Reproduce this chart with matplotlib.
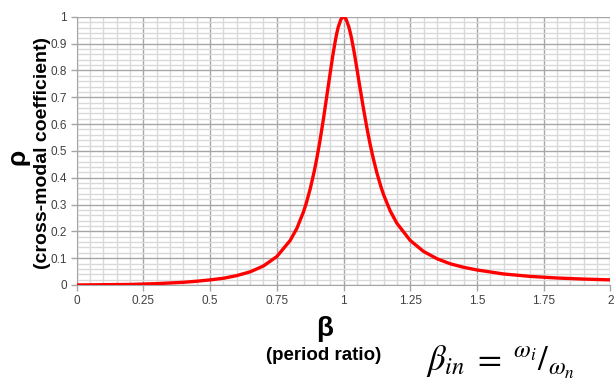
import matplotlib
matplotlib.use("Agg")
import matplotlib.pyplot as plt
from matplotlib.ticker import MultipleLocator

# period ratio vs cross-modal coefficient
beta = [0, 0.1, 0.2, 0.3, 0.4, 0.45, 0.5, 0.55, 0.6, 0.65, 0.7, 0.75, 0.8, 0.825, 0.85,
        0.86, 0.875, 0.89, 0.9, 0.91, 0.925, 0.93, 0.94, 0.95, 0.96, 0.97, 0.975, 0.98,
        0.99, 0.995, 1.0, 1.005, 1.01, 1.02, 1.025, 1.03, 1.04, 1.05, 1.06, 1.075, 1.09,
        1.1, 1.11, 1.125, 1.14, 1.15, 1.175, 1.2, 1.25, 1.3, 1.35, 1.4, 1.45, 1.5, 1.6,
        1.7, 1.75, 1.8, 1.9, 2.0]
rho = [0, 0.001, 0.002, 0.005, 0.010, 0.014, 0.019, 0.025, 0.035, 0.049, 0.071, 0.106,
       0.166, 0.211, 0.273, 0.304, 0.358, 0.423, 0.473, 0.528, 0.621, 0.655, 0.723,
       0.791, 0.857, 0.915, 0.940, 0.961, 0.990, 0.997, 1.0, 0.997, 0.990, 0.962, 0.942,
       0.920, 0.867, 0.807, 0.746, 0.656, 0.573, 0.523, 0.478, 0.418, 0.367, 0.337,
       0.276, 0.230, 0.166, 0.125, 0.098, 0.079, 0.066, 0.056, 0.041, 0.032, 0.029,
       0.026, 0.022, 0.019]

xticks = [0, 0.25, 0.5, 0.75, 1, 1.25, 1.5, 1.75, 2]
xticklabels = ["0", "0.25", "0.5", "0.75", "1", "1.25", "1.5", "1.75", "2"]
yticks = [0, 0.1, 0.2, 0.3, 0.4, 0.5, 0.6, 0.7, 0.8, 0.9, 1]
yticklabels = ["0", "0.1", "0.2", "0.3", "0.4", "0.5", "0.6", "0.7", "0.8", "0.9", "1"]

plt.rcParams['font.family'] = ['Liberation Sans', 'DejaVu Sans']
plt.rcParams['mathtext.fontset'] = 'stix'

fig = plt.figure(figsize=(6.14, 3.82), dpi=100)
ax = fig.add_axes([0.125, 0.254, 0.869, 0.702])

ax.plot(beta, rho, color="#ff0000", linewidth=2.4, solid_joinstyle="round", zorder=3)

ax.set_xlim(0, 2)
ax.set_ylim(0, 1)
ax.set_xticks(xticks)
ax.set_xticklabels(xticklabels)
ax.set_yticks(yticks)
ax.set_yticklabels(yticklabels)
ax.xaxis.set_minor_locator(MultipleLocator(0.05))
ax.yaxis.set_minor_locator(MultipleLocator(0.02))
ax.grid(which="major", color="#a6a6a6", linewidth=1.0)
ax.grid(which="minor", color="#d9d9d9", linewidth=1.0)
ax.set_axisbelow(True)
ax.tick_params(which="major", labelsize=8.5, labelcolor="#404040", color="#a6a6a6",
               length=4, width=1, pad=3)
ax.tick_params(which="minor", length=0)
for s in ["top", "right"]:
    ax.spines[s].set_visible(False)
for s in ["left", "bottom"]:
    ax.spines[s].set_color("#a6a6a6")

# axis titles
fig.text(0.028, 0.59, "ρ", rotation=90, fontsize=19, fontweight="bold", ha="center", va="center")
fig.text(0.070, 0.60, "(cross-modal coefficient)", rotation=90, fontsize=14, fontweight="bold",
         ha="center", va="center")
fig.text(0.529, 0.139, "β", fontsize=20, fontweight="bold", ha="center", va="center")
fig.text(0.527, 0.07, "(period ratio)", fontsize=13.5, fontweight="bold", ha="center", va="center")
fig.text(0.815, 0.05, r"$\beta_{in}\;=\;{}^{\omega_i}/_{\omega_n}$", fontsize=25, ha="center", va="center")

fig.savefig("out.png", dpi=100)
